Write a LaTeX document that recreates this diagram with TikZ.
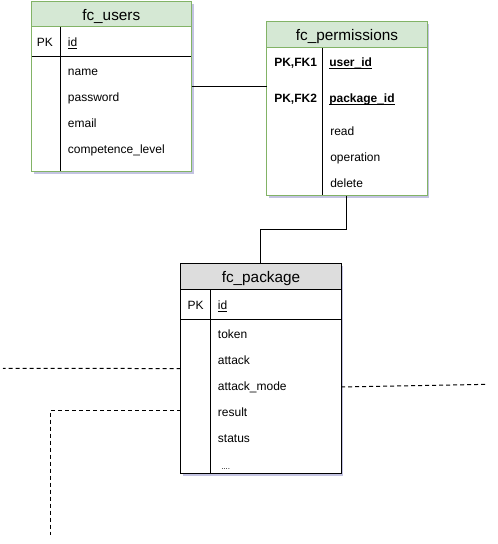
\documentclass[tikz,border=0pt]{standalone}
\usepackage{fontspec}
\setmainfont{Liberation Sans}
\usetikzlibrary{calc, shadows}

\definecolor{headgreen}{HTML}{D5E8D4}
\definecolor{linegreen}{HTML}{82B366}
\definecolor{headgray}{HTML}{DDDDDD}
\newcommand{\keyname}[1]{\setbox0\hbox{#1}\rlap{\rule[-1.8pt]{\wd0}{0.6pt}}\box0}

\begin{document}
\begin{tikzpicture}[x=0.75pt, y=-0.75pt,
    tablebox/.style={fill=white, anchor=north west, inner sep=0pt,
        drop shadow={shadow xshift=1.8pt, shadow yshift=-1.8pt, opacity=0.35, fill=blue!35!gray}},
    title/.style={font=\fontsize{11.5}{13}\selectfont},
    field/.style={anchor=west, inner sep=0pt, font=\fontsize{9}{11}\selectfont,
        text height=6.5pt, text depth=2pt},
    rel/.style={line width=0.75pt},
    weak/.style={line width=0.75pt, dash pattern=on 3pt off 2.25pt}]
    \useasboundingbox (0,0) rectangle (498,544);

    % Table boxes
    \node[tablebox, minimum width=120pt, minimum height=127.5pt] (users) at (31,1) {};
    \node[tablebox, minimum width=120pt, minimum height=130pt] (perm) at (266.7,21.7) {};
    \node[tablebox, minimum width=120pt, minimum height=157.5pt] (pkg) at (180.7,263.3) {};

    % Headers
    \draw[linegreen, fill=headgreen, line width=0.75pt] (users.north west) rectangle ($(users.north east)+(0,25.5)$);
    \draw[linegreen, fill=headgreen, line width=0.75pt] (perm.north west) rectangle ($(perm.north east)+(0,26)$);
    \draw[fill=headgray, line width=0.75pt] (pkg.north west) rectangle ($(pkg.north east)+(0,25.7)$);

    % Key lines and column dividers
    \draw[rel] ($(users.north west)+(0,55.7)$) -- ($(users.north east)+(0,55.7)$);
    \draw[rel] ($(users.north west)+(29.7,25.5)$) -- ($(users.south west)+(29.7,0)$);
    \draw[rel] ($(perm.north west)+(55.6,26)$) -- ($(perm.south west)+(55.6,0)$);
    \draw[rel] ($(pkg.north west)+(0,55.7)$) -- ($(pkg.north east)+(0,55.7)$);
    \draw[rel] ($(pkg.north west)+(30,25.7)$) -- ($(pkg.south west)+(30,0)$);

    % Outlines
    \draw[linegreen, line width=0.75pt] (users.north west) rectangle (users.south east);
    \draw[linegreen, line width=0.75pt] (perm.north west) rectangle (perm.south east);
    \draw[line width=0.75pt] (pkg.north west) rectangle (pkg.south east);

    % Titles
    \node[title] (userstitle) at ($(users.north)+(0,15)$) {fc\_users};
    \node[title] (permtitle) at ($(perm.north)+(0,15)$) {fc\_permissions};
    \node[title] (pkgtitle) at ($(pkg.north)+(0,15.5)$) {fc\_package};

    % fc_users fields
    \node[field] (userpk) at (36.7,43) {PK};
    \node[field] (userid) at (67.7,43) {\keyname{id}};
    \foreach \txt [count=\i] in {name,password,email,competence\_level}
        \node[field] (userrow\i) at (67.7,46+26*\i) {\txt};

    % fc_permissions fields
    \node[field, font=\fontsize{9}{11}\selectfont\bfseries] (permpk1) at (274,63.7) {PK,FK1};
    \node[field, font=\fontsize{9}{11}\selectfont\bfseries] (permpk2) at (274,99.3) {PK,FK2};
    \node[field, font=\fontsize{9}{11}\selectfont\bfseries] (permuser) at (329,63.7) {\keyname{user\_id}};
    \node[field, font=\fontsize{9}{11}\selectfont\bfseries] (permpkg) at (329,99.3) {\keyname{package\_id}};
    \foreach \txt [count=\i] in {read,operation,delete}
        \node[field] (permrow\i) at (330,106.7+26*\i) {\txt};

    % fc_package fields
    \node[field] (pkgpk) at (187.3,306) {PK};
    \node[field] (pkgid) at (217.7,306) {\keyname{id}};
    \foreach \txt [count=\i] in {token,attack,attack\_mode,result,status}
        \node[field] (pkgrow\i) at (217.7,309+26*\i) {\txt};
    \node[field, font=\fontsize{6}{7}\selectfont] (pkgmore) at (221,466) {....};

    % Relations
    \draw[rel] (users.east) -- (users.east -| perm.west);
    \coordinate (bend) at ($(perm.south)!0.5!(pkg.north)$);
    \draw[rel] (perm.south) |- (bend) -| (pkg.north);

    % Links leaving the picture
    \coordinate (outleft) at (3,368.3);
    \coordinate (outdown) at (50,535);
    \coordinate (outright) at (488,384.3);
    \draw[weak] (pkg.west) -- (outleft);
    \draw[weak] (pkg.west |- 0,410.3) -| (outdown);
    \draw[weak] (pkg.east |- pkgrow3) -- (outright);
\end{tikzpicture}
\end{document}
